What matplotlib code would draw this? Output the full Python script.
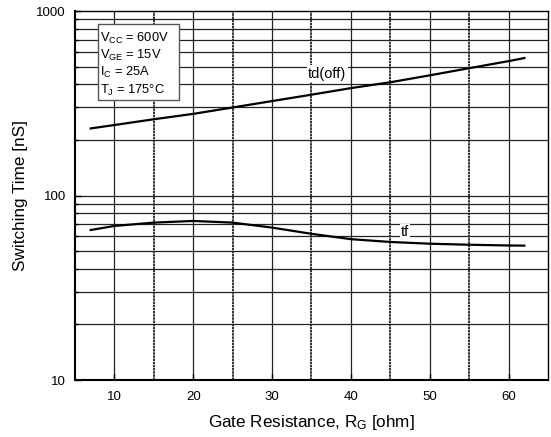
import matplotlib
matplotlib.use("Agg")
import matplotlib.pyplot as plt
from matplotlib.ticker import NullFormatter, FixedLocator
from matplotlib.patches import Rectangle

plt.rcParams['font.family'] = ['Liberation Sans', 'DejaVu Sans']
plt.rcParams['mathtext.fontset'] = 'custom'
plt.rcParams['mathtext.rm'] = 'Liberation Sans'
plt.rcParams['mathtext.it'] = 'Liberation Sans'

# Data
rg = [7, 10, 15, 20, 25, 30, 35, 40, 45, 50, 55, 60, 62]
td_off = [231, 241, 259, 277, 300, 325, 352, 382, 411, 448, 490, 535, 556]
tf = [65.0, 68.4, 71.3, 72.8, 71.3, 67.0, 62.0, 58.0, 56.0, 54.8, 54.1, 53.6, 53.5]

x_ticks = [10, 20, 30, 40, 50, 60]
y_ticks = [10, 100, 1000]
y_ticklabels = ['10', '100', '1000']
conditions = [r'V$_{\rm CC}$ = 600V', r'V$_{\rm GE}$ = 15V',
              r'I$_{\rm C}$ = 25A', r'T$_{\rm J}$ = 175°C']

fig = plt.figure(figsize=(5.51, 4.37), dpi=100)
ax = fig.add_axes([0.136, 0.1304, 0.8586, 0.8444])
ax.set_yscale('log')
ax.set_xlim(5, 65)
ax.set_ylim(10, 1000)

# grid
for v in range(10, 65, 10):
    ax.axvline(v, color='#222222', lw=0.9, zorder=1)
for v in range(15, 65, 10):
    ax.axvline(v, color='#111111', lw=1.2, ls=(0, (1.5, 0.4)), zorder=1)
for dec in [10, 100]:
    for m in range(1, 10):
        ax.axhline(dec * m, color='#222222', lw=0.9, zorder=1)

ax.plot(rg, td_off, color='black', lw=1.6, zorder=3)
ax.plot(rg, tf, color='black', lw=1.6, zorder=3)

ax.text(37, 456, 'td(off)', fontsize=10.5, ha='center', va='center', zorder=4,
        bbox=dict(facecolor='white', edgecolor='none', pad=1.0))
ax.text(46.8, 63.4, 'tf', fontsize=10.5, ha='center', va='center', zorder=4,
        bbox=dict(facecolor='white', edgecolor='none', pad=0.6))

ax.add_patch(Rectangle((0.048, 0.759), 0.1725, 0.205, transform=ax.transAxes,
                       facecolor='white', edgecolor='#555555', lw=1.0, zorder=5))
ax.text(0.053, 0.947, '\n'.join(conditions), transform=ax.transAxes, fontsize=9.3,
        ha='left', va='top', linespacing=1.2, zorder=6)

ax.xaxis.set_major_locator(FixedLocator(x_ticks))
ax.set_xticklabels([str(v) for v in x_ticks])
ax.yaxis.set_major_locator(FixedLocator(y_ticks))
ax.set_yticklabels(y_ticklabels)
ax.yaxis.set_minor_formatter(NullFormatter())
ax.tick_params(axis='both', which='both', direction='in', labelsize=9.5, length=4, width=1)
ax.tick_params(axis='y', which='major', pad=6.5)
ax.tick_params(axis='x', which='major', pad=8)
ax.tick_params(axis='y', which='minor', length=2.5)

for s in ['left', 'bottom']:
    ax.spines[s].set_linewidth(1.5)
for s in ['top', 'right']:
    ax.spines[s].set_linewidth(1.0)

ax.set_xlabel(r'Gate Resistance, R$_{\rm G}$ [ohm]', fontsize=12.3, labelpad=7)
ax.set_ylabel('Switching Time [nS]', fontsize=12.3, labelpad=6)

fig.savefig('out.png', dpi=100)
